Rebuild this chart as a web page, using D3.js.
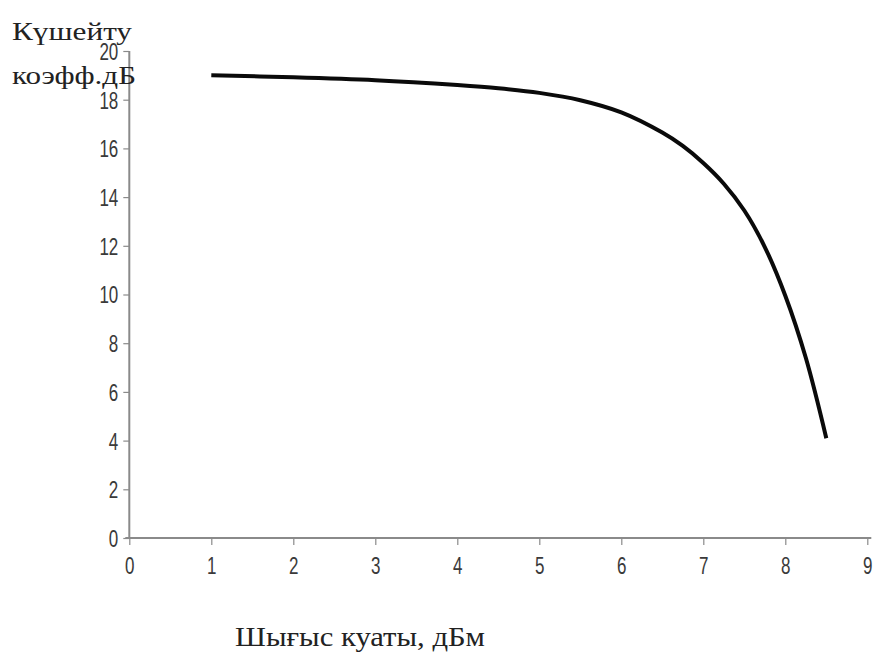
<!DOCTYPE html>
<html>
<head>
<meta charset="utf-8">
<script src="https://cdn.jsdelivr.net/npm/d3@7"></script>
<style>
  html, body { margin: 0; padding: 0; background: #fff; }
  svg { display: block; }
</style>
</head>
<body>
<svg id="chart" width="873" height="657"></svg>
<script>
// Data
const outputPower = [1, 2, 3, 4, 4.5, 5, 5.5, 6, 6.5, 6.75, 7, 7.25, 7.5, 7.75, 8, 8.25, 8.5];
const gainDb      = [19.0, 18.92, 18.8, 18.6, 18.47, 18.28, 17.98, 17.48, 16.65, 16.1, 15.4, 14.55, 13.45, 11.95, 9.95, 7.4, 4.1];
const xTicks = [0, 1, 2, 3, 4, 5, 6, 7, 8, 9];
const yTicks = [0, 2, 4, 6, 8, 10, 12, 14, 16, 18, 20];
const yLabelLines = ["Күшейту", "коэфф.дБ"];
const xLabel = "Шығыс куаты, дБм";

const svg = d3.select("#chart");
const x = d3.scaleLinear().domain([0, 9]).range([129.3, 867.3]);
const y = d3.scaleLinear().domain([0, 20]).range([538, 51]);

const stretch = 1.42;
const axisColor = "#8a8a8a";
const tickTextColor = "#3a3a3a";

// X axis
const gx = svg.append("g").attr("transform", `translate(0,${y(0)})`)
  .call(d3.axisBottom(x).tickValues(xTicks).tickSize(7).tickSizeOuter(0).tickFormat(d3.format("d")));
gx.select(".domain").attr("stroke", axisColor).attr("stroke-width", 2)
  .attr("d", `M${x(0) - 4},0H${x(9) + 4}`);
gx.selectAll(".tick line").attr("stroke", axisColor).attr("stroke-width", 1.2);
gx.selectAll(".tick text")
  .attr("font-family", "'Liberation Sans', Arial, sans-serif")
  .attr("font-size", 17).attr("fill", tickTextColor)
  .attr("y", 13.4).attr("dy", "0.71em")
  .attr("transform", `scale(1,${stretch})`);

// Y axis
const gy = svg.append("g").attr("transform", `translate(${x(0)},0)`)
  .call(d3.axisLeft(y).tickValues(yTicks).tickSize(6).tickSizeOuter(0).tickFormat(d3.format("d")));
gy.select(".domain").attr("stroke", axisColor).attr("stroke-width", 2)
  .attr("d", `M0,${y(20)}V${y(0) + 1}`);
gy.selectAll(".tick line").attr("stroke", axisColor).attr("stroke-width", 1.2);
gy.selectAll(".tick text")
  .attr("font-family", "'Liberation Sans', Arial, sans-serif")
  .attr("font-size", 17).attr("fill", tickTextColor)
  .attr("x", -11).attr("y", 0).attr("dy", "0.35em")
  .attr("transform", `scale(1,${stretch})`);

// Curve
const pts = outputPower.map((v, i) => [v, gainDb[i]]);
svg.append("path")
  .datum(pts)
  .attr("fill", "none")
  .attr("stroke", "#0a0a0a")
  .attr("stroke-width", 4)
  .attr("stroke-linecap", "butt")
  .attr("d", d3.line().x(d => x(d[0])).y(d => y(d[1])).curve(d3.curveCatmullRom.alpha(0.5)));

// Y axis label (two lines, serif, top-left)
const yl = svg.append("g");
yl.append("text").attr("x", 12).attr("y", 40).text(yLabelLines[0])
  .attr("textLength", 120).attr("lengthAdjust", "spacingAndGlyphs");
yl.append("text").attr("x", 12).attr("y", 84).text(yLabelLines[1])
  .attr("textLength", 124).attr("lengthAdjust", "spacingAndGlyphs");
yl.selectAll("text")
  .attr("font-family", "'Liberation Serif', 'Times New Roman', serif")
  .attr("font-size", 25).attr("fill", "#222");

// X axis label
svg.append("text").attr("x", 235).attr("y", 646).text(xLabel)
  .attr("font-family", "'Liberation Serif', 'Times New Roman', serif")
  .attr("font-size", 27).attr("fill", "#222")
  .attr("textLength", 250).attr("lengthAdjust", "spacingAndGlyphs");
</script>
</body>
</html>
